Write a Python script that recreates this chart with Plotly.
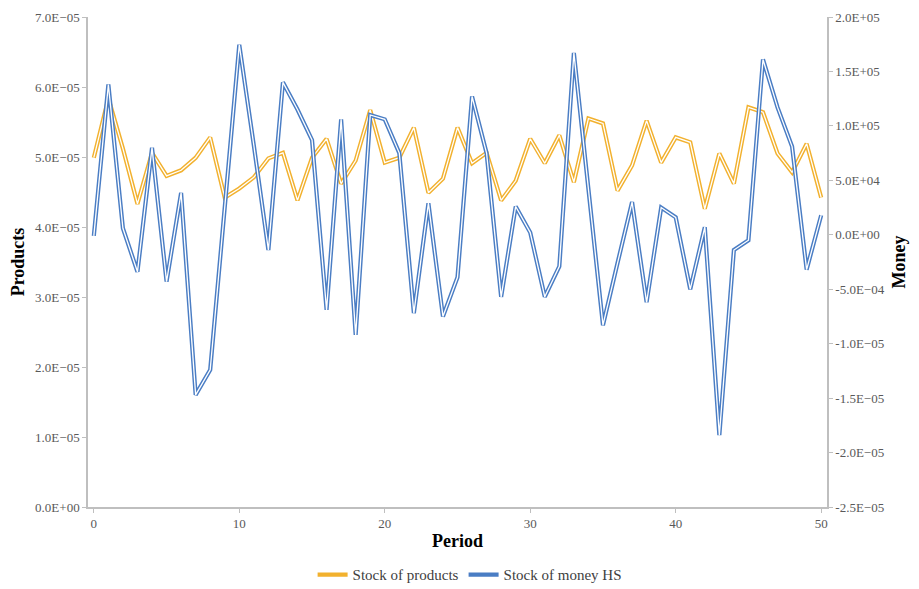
import plotly.graph_objects as go

periods = list(range(51))

stock_products = [
    4.99e-5, 5.84e-5, 5.12e-5, 4.33e-5, 5.06e-5, 4.73e-5, 4.81e-5, 4.99e-5, 5.28e-5, 4.42e-5,
    4.55e-5, 4.71e-5, 4.98e-5, 5.06e-5, 4.38e-5, 4.99e-5, 5.26e-5, 4.62e-5, 4.95e-5, 5.67e-5,
    4.92e-5, 4.99e-5, 5.42e-5, 4.49e-5, 4.69e-5, 5.42e-5, 4.91e-5, 5.06e-5, 4.38e-5, 4.66e-5,
    5.26e-5, 4.91e-5, 5.31e-5, 4.64e-5, 5.55e-5, 5.48e-5, 4.52e-5, 4.88e-5, 5.52e-5, 4.92e-5,
    5.28e-5, 5.21e-5, 4.26e-5, 5.05e-5, 4.62e-5, 5.71e-5, 5.64e-5, 5.05e-5, 4.78e-5, 5.19e-5,
    4.42e-5,
]

stock_money = [
    -1000, 138000, 6000, -34000, 80000, -43000, 38500, -147000, -124000, 26000,
    174500, 82000, -14000, 140000, 115000, 87000, -69000, 106000, -92000, 110000,
    106000, 75000, -72000, 29000, -75000, -39000, 127000, 75000, -57000, 26000,
    2000, -57000, -29000, 167000, 42000, -83000, -26000, 30000, -62000, 25000,
    16000, -50000, 7000, -184000, -14000, -5000, 161000, 117000, 81000, -32000,
    18000,
]

x_ticks = [0, 10, 20, 30, 40, 50]
left_tickvals = [0, 1e-5, 2e-5, 3e-5, 4e-5, 5e-5, 6e-5, 7e-5]
left_ticktext = ["0.0E+00", "1.0E\u221205", "2.0E\u221205", "3.0E\u221205", "4.0E\u221205",
                 "5.0E\u221205", "6.0E\u221205", "7.0E\u221205"]
right_tickvals = [-2.5e5, -2.0e5, -1.5e5, -1.0e5, -5e4, 0, 5e4, 1.0e5, 1.5e5, 2.0e5]
right_ticktext = ["-2.5E\u221205", "-2.0E\u221205", "-1.5E\u221205", "-1.0E\u221205", "-5.0E\u221204",
                  "0.0E+00", "5.0E+04", "1.0E+05", "1.5E+05", "2.0E+05"]

orange = "#F2B12E"
blue = "#4A7DC4"
font_family = "Liberation Serif, Times New Roman, serif"

fig = go.Figure()

fig.add_trace(go.Scatter(x=periods, y=stock_products, mode="lines", name="Stock of products",
                         line=dict(color=orange, width=4.2), yaxis="y", legendgroup="p"))
fig.add_trace(go.Scatter(x=periods, y=stock_products, mode="lines", showlegend=False,
                         line=dict(color="white", width=1.3), yaxis="y", legendgroup="p",
                         hoverinfo="skip"))
fig.add_trace(go.Scatter(x=periods, y=stock_money, mode="lines", name="Stock of money HS",
                         line=dict(color=blue, width=4.2), yaxis="y2", legendgroup="m"))
fig.add_trace(go.Scatter(x=periods, y=stock_money, mode="lines", showlegend=False,
                         line=dict(color="white", width=1.3), yaxis="y2", legendgroup="m",
                         hoverinfo="skip"))

axis_line = "#BFBFBF"
tick_font = dict(family=font_family, size=13, color="#595959")
title_font = dict(family=font_family, size=18, color="black")

fig.update_layout(
    width=919, height=589,
    margin=dict(l=88, r=92, t=17, b=82, autoexpand=False),
    paper_bgcolor="white", plot_bgcolor="white",
    font=dict(family=font_family),
    showlegend=True,
    legend=dict(orientation="h", x=0.511, xanchor="center", xref="container",
                y=0.024, yanchor="middle", yref="container",
                font=dict(family=font_family, size=15, color="#404040"),
                itemwidth=30, tracegroupgap=0),
    xaxis=dict(range=[-0.4, 50.4], tickvals=x_ticks, ticktext=[str(v) for v in x_ticks],
               showgrid=False, zeroline=False, showline=True, linecolor=axis_line, linewidth=1.5,
               ticks="outside", ticklen=4, tickcolor=axis_line, tickfont=tick_font,
               title=dict(text="<b>Period</b>", font=title_font, standoff=4)),
    yaxis=dict(range=[0, 7e-5], tickvals=left_tickvals, ticktext=left_ticktext,
               showgrid=False, zeroline=False, showline=True, linecolor=axis_line, linewidth=1.5,
               ticks="outside", ticklen=4, tickcolor=axis_line, tickfont=tick_font,
               title=dict(text="<b>Products</b>", font=title_font, standoff=6)),
    yaxis2=dict(range=[-2.5e5, 2.0e5], tickvals=right_tickvals, ticktext=right_ticktext,
                overlaying="y", side="right",
                showgrid=False, zeroline=False, showline=True, linecolor=axis_line, linewidth=1.5,
                ticks="outside", ticklen=4, tickcolor=axis_line, tickfont=tick_font,
                title=dict(text="<b>Money</b>", font=title_font, standoff=9)),
)

fig.write_html("out.html")
